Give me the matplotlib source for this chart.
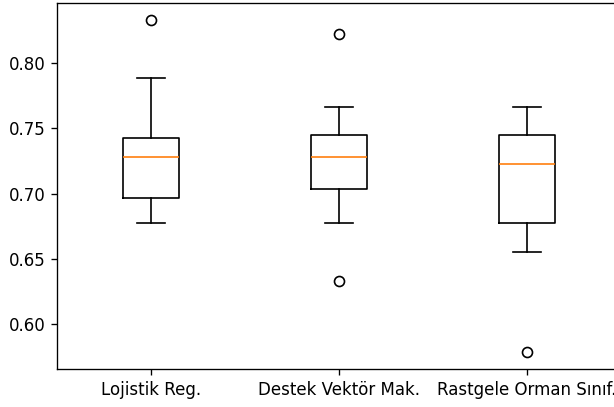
import matplotlib
matplotlib.use("Agg")
import matplotlib.pyplot as plt

# Model names and the summary statistics of their cross-validation scores
models = ["Lojistik Reg.", "Destek Vektör Mak.", "Rastgele Orman Sınıf."]
medians = [0.7279, 0.7279, 0.7228]
q1s = [0.6969, 0.7034, 0.6773]
q3s = [0.7427, 0.7445, 0.7445]
whisker_low = [0.6778, 0.6775, 0.6555]
whisker_high = [0.7882, 0.7663, 0.7665]
outliers = [[0.8332], [0.8222, 0.6333], [0.5784]]

stats = []
for name, med, q1, q3, lo, hi, fl in zip(models, medians, q1s, q3s,
                                          whisker_low, whisker_high, outliers):
    stats.append(dict(label=name, med=med, q1=q1, q3=q3,
                      whislo=lo, whishi=hi, fliers=fl))

DPI = 120
W, H = 614, 407
fig = plt.figure(figsize=(W / DPI, H / DPI), dpi=DPI)
ax = fig.add_axes([57 / W, (H - 369) / H, 564 / W, 366 / H])
ax.bxp(stats, widths=0.3)

fig.savefig("out.png", dpi=DPI)
